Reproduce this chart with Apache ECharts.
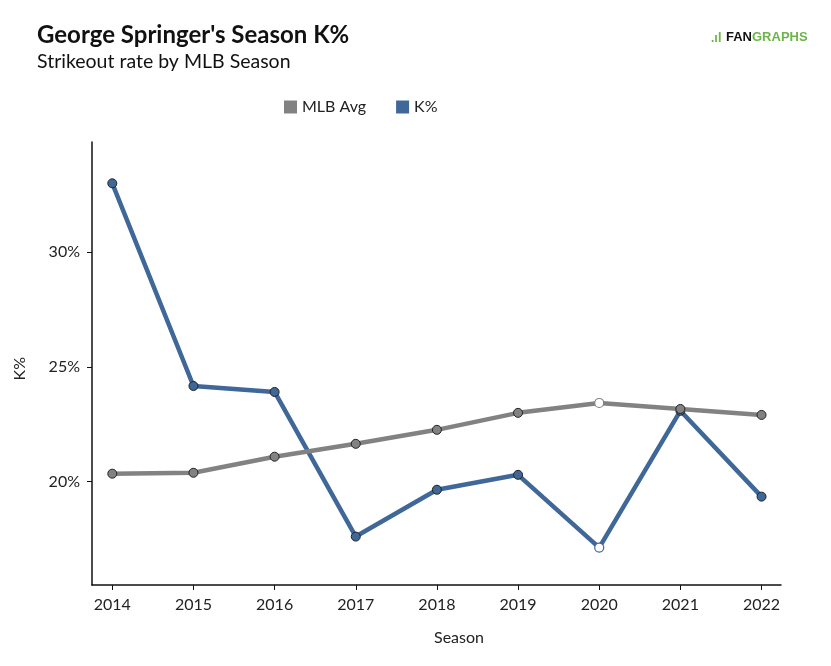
<!DOCTYPE html>
<html><head><meta charset="utf-8">
<script src="https://cdn.jsdelivr.net/npm/echarts@6/dist/echarts.min.js"></script>
<style>html,body{margin:0;padding:0;background:#fff}#c{width:831px;height:666px}</style>
</head><body><div id="c"></div>
<script>
const seasons = [2014, 2015, 2016, 2017, 2018, 2019, 2020, 2021, 2022];
const mlbAvg = [20.35, 20.39, 21.09, 21.65, 22.26, 23.0, 23.43, 23.17, 22.91];
const kPct = [33.0, 24.17, 23.91, 17.61, 19.65, 20.30, 17.13, 23.09, 19.35];
const yTicks = [20, 25, 30];
const hollowSeason = 2020;

const GRAY = '#828282', BLUE = '#3f6798';
const F = 'Lato';

function pts(vals, color) {
  return seasons.map((s, i) => ({
    value: [s, vals[i]],
    itemStyle: s === hollowSeason ? { color: '#fff', borderColor: color, borderWidth: 1.2 } : { color: color, borderColor: '#222', borderWidth: 1 }
  }));
}

const chart = echarts.init(document.getElementById('c'));
chart.setOption({
  animation: false,
  textStyle: { fontFamily: F },
  title: [
    { text: "George Springer's Season K%", left: 32, top: 18, textStyle: { fontFamily: F, fontSize: 24, fontWeight: 'bold', color: '#111' } },
    { text: 'Strikeout rate by MLB Season', left: 32, top: 47, textStyle: { fontFamily: F, fontSize: 19.5, fontWeight: 'normal', color: '#111' } }
  ],
  legend: {
    top: 94, left: 279, itemWidth: 13, itemHeight: 13, itemGap: 30, icon: 'rect',
    textStyle: { fontFamily: F, fontSize: 16, color: '#222' },
    data: [{ name: 'MLB Avg', itemStyle: { color: GRAY, borderWidth: 0 } }, { name: 'K%', itemStyle: { color: BLUE, borderWidth: 0 } }]
  },
  graphic: [
    { type: 'text', left: 711, top: 30, style: { text: '.ıl', fill: '#6cb548', font: 'bold 14px Lato' } },
    { type: 'text', left: 726, top: 31, style: { rich: { a: { fill: '#111', font: 'bold 13px "Liberation Sans Narrow", "Liberation Sans"' }, b: { fill: '#6cb548', font: 'bold 13px "Liberation Sans Narrow", "Liberation Sans"' } }, text: '{a|FAN}{b|GRAPHS}' } },
    { type: 'text', left: 434, top: 630, style: { text: 'Season', fill: '#222', font: '16px Lato' } },
    { type: 'text', left: 12, top: 357, rotation: Math.PI / 2, style: { text: 'K%', fill: '#222', font: '16px Lato' } }
  ],
  grid: { left: 92, right: 50, top: 142, bottom: 81 },
  xAxis: {
    type: 'value', min: 2013.75, max: 2022.24,
    axisLine: { lineStyle: { color: '#111', width: 1.5 } },
    axisTick: { show: true, customValues: seasons, length: 5, lineStyle: { color: '#111' } },
    axisLabel: { customValues: seasons, formatter: v => String(v), color: '#222', fontSize: 16, fontFamily: F, margin: 12 },
    splitLine: { show: false }
  },
  yAxis: {
    type: 'value', min: 15.5, max: 34.8,
    axisLine: { show: true, lineStyle: { color: '#111', width: 1.5 } },
    axisTick: { show: true, customValues: yTicks, length: 5, lineStyle: { color: '#111' } },
    axisLabel: { customValues: yTicks, formatter: v => v + '%', color: '#222', fontSize: 16, fontFamily: F, margin: 12 },
    splitLine: { show: false }
  },
  series: [
    { name: 'K%', type: 'line', data: pts(kPct, BLUE), color: BLUE, lineStyle: { color: BLUE, width: 4.5 }, symbol: 'circle', symbolSize: 9, z: 2 },
    { name: 'MLB Avg', type: 'line', data: pts(mlbAvg, GRAY), color: GRAY, lineStyle: { color: GRAY, width: 4.5 }, symbol: 'circle', symbolSize: 9, z: 3 }
  ]
});
</script></body></html>
